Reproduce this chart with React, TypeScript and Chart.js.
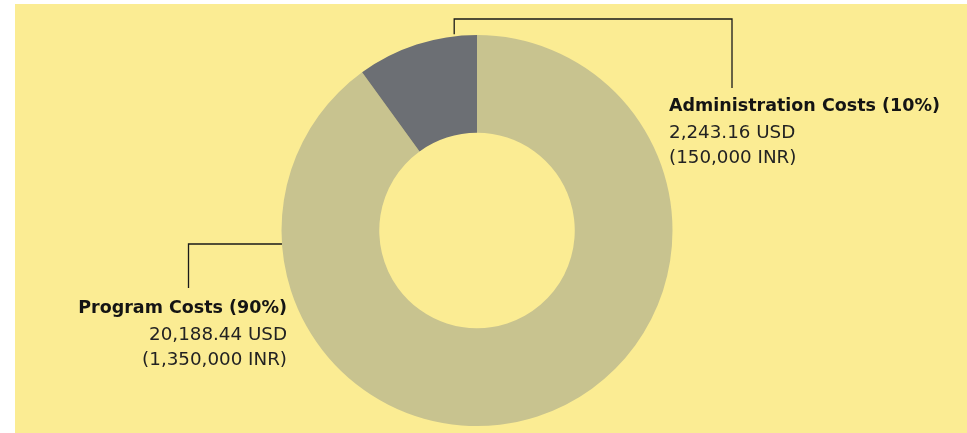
import React, { useEffect, useRef } from "react";
import { Chart, registerables } from "chart.js";

Chart.register(...registerables);

const categories = ["Program Costs", "Administration Costs"];
const usdValues = [20188.44, 2243.16];
const inrValues = [1350000, 150000];
const sliceColors = ["#C8C38F", "#6C6F74"];

const BG = "#FBEC93";

function pct(i: number) {
  const total = usdValues.reduce((a, b) => a + b, 0);
  return Math.round((usdValues[i] / total) * 100);
}
function fmtUsd(v: number) {
  return v.toLocaleString("en-US", { minimumFractionDigits: 2, maximumFractionDigits: 2 }) + " USD";
}
function fmtInr(v: number) {
  return "(" + v.toLocaleString("en-US") + " INR)";
}

const bgPlugin = {
  id: "bgPlugin",
  beforeDraw(chart: any) {
    const ctx = chart.ctx;
    ctx.save();
    ctx.fillStyle = BG;
    ctx.fillRect(15, 4, chart.width - 15, chart.height - 4);
    ctx.restore();
  },
};

const calloutPlugin = {
  id: "calloutPlugin",
  afterDraw(chart: any) {
    const ctx = chart.ctx;
    const meta = chart.getDatasetMeta(0);
    const arc0 = meta.data[0] as any;
    const cx = arc0.x;
    const cy = arc0.y;
    const r = arc0.outerRadius;
    ctx.save();
    ctx.strokeStyle = "#1a1a1a";
    ctx.lineWidth = 1.3;

    // Administration callout (slice 1)
    const a1 = meta.data[1] as any;
    const ang = a1.endAngle - (a1.endAngle - a1.startAngle) * 0.186;
    const ax = cx + r * Math.cos(ang);
    const topY = 19;
    const rightX = 732;
    ctx.beginPath();
    ctx.moveTo(ax, cy + r * Math.sin(ang) - 2);
    ctx.lineTo(ax, topY);
    ctx.lineTo(rightX, topY);
    ctx.lineTo(rightX, 88);
    ctx.stroke();

    // Program callout (slice 0)
    const py = 244;
    const px = cx - Math.sqrt(r * r - (py - cy) * (py - cy));
    ctx.beginPath();
    ctx.moveTo(px, py);
    ctx.lineTo(188.5, py);
    ctx.lineTo(188.5, 288);
    ctx.stroke();

    // Labels
    const drawLabel = (i: number, x: number, y0: number, align: CanvasTextAlign) => {
      ctx.textAlign = align;
      ctx.textBaseline = "alphabetic";
      ctx.fillStyle = "#141414";
      ctx.font = "bold 17.5px 'DejaVu Sans'";
      ctx.fillText(`${categories[i]} (${pct(i)}%)`, x, y0);
      ctx.fillStyle = "#222222";
      ctx.font = "18.3px 'DejaVu Sans'";
      ctx.fillText(fmtUsd(usdValues[i]), x, y0 + 27);
      ctx.fillText(fmtInr(inrValues[i]), x, y0 + 52);
    };
    drawLabel(1, 669, 111, "left");
    drawLabel(0, 287, 313, "right");
    ctx.restore();
  },
};

export default function App() {
  const ref = useRef<HTMLCanvasElement | null>(null);
  useEffect(() => {
    document.body.style.margin = "0";
    if (!ref.current) return;
    const chart = new Chart(ref.current, {
      type: "doughnut",
      data: {
        labels: categories,
        datasets: [
          {
            data: usdValues,
            backgroundColor: sliceColors,
            borderWidth: 0,
            hoverOffset: 0,
          },
        ],
      },
      options: {
        responsive: false,
        animation: false,
        cutout: "50%",
        layout: { padding: { left: 281.5, right: 294.5, top: 34, bottom: 6 } },
        plugins: {
          legend: { display: false },
          tooltip: { enabled: false },
        },
      },
      plugins: [bgPlugin, calloutPlugin],
    });
    return () => chart.destroy();
  }, []);
  return (
    <div style={{ position: "absolute", left: 0, top: 0, width: 967, height: 433, background: "#fff" }}>
      <canvas ref={ref} width={967} height={433} style={{ display: "block", width: 967, height: 433 }} />
    </div>
  );
}
